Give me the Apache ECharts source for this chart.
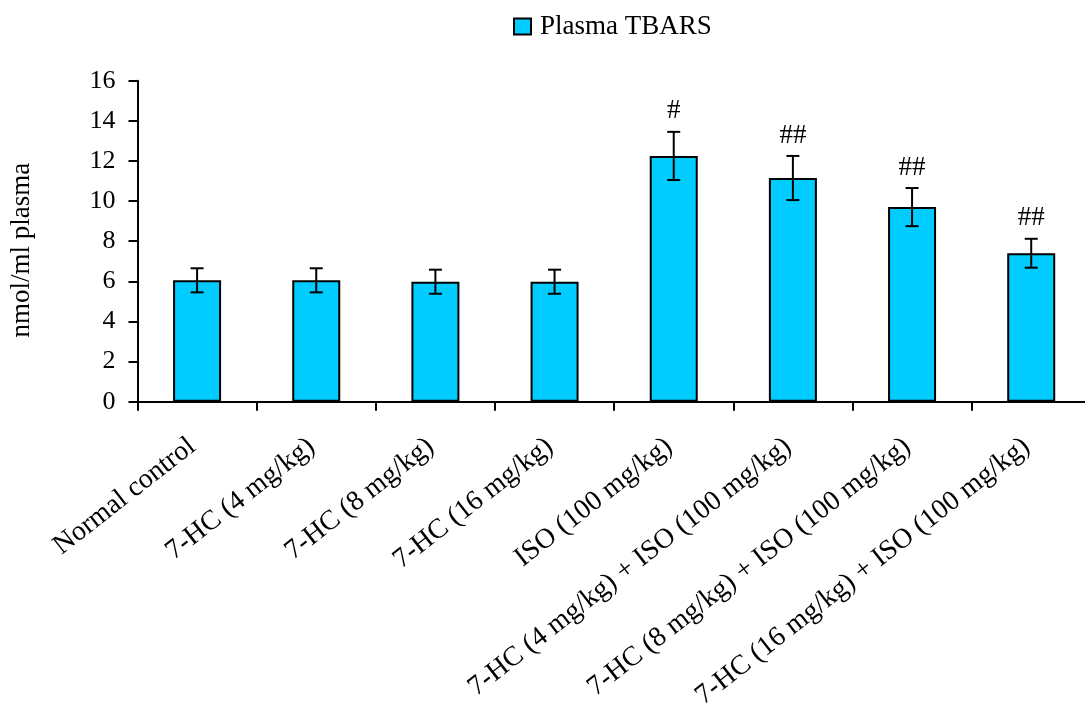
<!DOCTYPE html>
<html>
<head>
<meta charset="utf-8">
<script src="https://cdn.jsdelivr.net/npm/echarts@6/dist/echarts.min.js"></script>
<style>
html,body{margin:0;padding:0;background:#fff;}
#c{width:1085px;height:709px;}
</style>
</head>
<body>
<div id="c"></div>
<script>
var categories = ['Normal control', '7-HC (4 mg/kg)', '7-HC (8 mg/kg)', '7-HC (16 mg/kg)', 'ISO (100 mg/kg)', '7-HC (4 mg/kg) + ISO (100 mg/kg)', '7-HC (8 mg/kg) + ISO (100 mg/kg)', '7-HC (16 mg/kg) + ISO (100 mg/kg)'];
var values = [6.05, 6.05, 5.98, 5.98, 12.25, 11.15, 9.7, 7.4];
var errors = [0.6, 0.6, 0.6, 0.6, 1.2, 1.1, 0.95, 0.72];
var marks = ['', '', '', '', '#', '##', '##', '##'];
var seriesName = 'Plasma TBARS';
var yAxisName = 'nmol/ml plasma';

var FONT = '"Liberation Serif", "Times New Roman", serif';
var chart = echarts.init(document.getElementById('c'), null, {renderer: 'canvas'});

var errData = categories.map(function (c, i) { return [i, values[i], errors[i]]; });

chart.setOption({
  animation: false,
  backgroundColor: '#fff',
  textStyle: {fontFamily: FONT, color: '#000'},
  legend: {
    data: [seriesName],
    left: 508,
    top: 8,
    itemWidth: 17,
    itemHeight: 16,
    icon: 'rect',
    textStyle: {fontFamily: FONT, fontSize: 27, color: '#000', padding: [0, 0, 0, 4]}
  },
  grid: {
    left: 137.5,
    right: -5.8,
    top: 80.7,
    bottom: 307.3,
    containLabel: false,
    outerBoundsMode: 'none'
  },
  xAxis: {
    type: 'category',
    data: categories,
    axisLine: {lineStyle: {color: '#000', width: 2}},
    axisTick: {show: true, length: 9, lineStyle: {color: '#000', width: 2}, alignWithLabel: false},
    axisLabel: {
      interval: 0,
      rotate: 38,
      margin: 38,
      padding: [0, 6, 0, 0],
      fontFamily: FONT,
      fontSize: 28,
      color: '#000'
    },
    splitLine: {show: false}
  },
  yAxis: {
    type: 'value',
    min: 0,
    max: 16,
    interval: 2,
    name: yAxisName,
    nameLocation: 'middle',
    nameRotate: 90,
    nameGap: 102,
    nameTextStyle: {fontFamily: FONT, fontSize: 27, color: '#000', padding: [0, 0, 0, -18]},
    axisLine: {show: true, lineStyle: {color: '#000', width: 2}},
    axisTick: {show: true, length: 9, lineStyle: {color: '#000', width: 2}},
    axisLabel: {fontFamily: FONT, fontSize: 26, color: '#000', margin: 22},
    splitLine: {show: false}
  },
  series: [
    {
      name: seriesName,
      type: 'bar',
      data: values,
      barWidth: 48,
      itemStyle: {color: '#00CCFF', borderColor: '#000', borderWidth: 2}
    },
    {
      name: 'err',
      type: 'custom',
      data: errData,
      encode: {x: 0, y: 1},
      z: 10,
      renderItem: function (params, api) {
        var i = api.value(0);
        var m = api.value(1), e = api.value(2);
        var top = api.coord([i, m + e]);
        var bot = api.coord([i, m - e]);
        var h = 6.5;
        var st = {stroke: '#000', lineWidth: 2};
        var children = [
          {type: 'line', shape: {x1: top[0], y1: top[1], x2: bot[0], y2: bot[1]}, style: st},
          {type: 'line', shape: {x1: top[0] - h, y1: top[1], x2: top[0] + h, y2: top[1]}, style: st},
          {type: 'line', shape: {x1: bot[0] - h, y1: bot[1], x2: bot[0] + h, y2: bot[1]}, style: st}
        ];
        if (marks[i]) {
          children.push({
            type: 'text',
            x: top[0],
            y: top[1] - 7,
            style: {text: marks[i], fill: '#000', font: '27px ' + FONT, align: 'center', verticalAlign: 'bottom'}
          });
        }
        return {type: 'group', children: children};
      }
    }
  ]
});
</script>
</body>
</html>
